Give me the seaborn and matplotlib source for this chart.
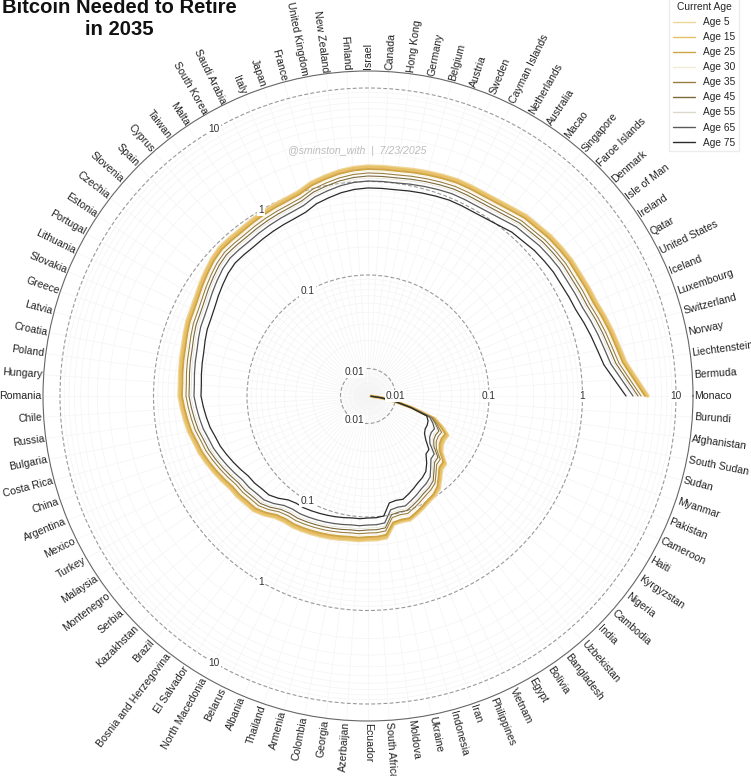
import numpy as np
import pandas as pd
import seaborn as sns
import matplotlib.pyplot as plt

# Data (BTC needed, log radius), going clockwise
countries = ["Burundi", "Afghanistan", "South Sudan", "Sudan", "Myanmar", "Pakistan", "Cameroon", "Haiti",
             "Kyrgyzstan", "Nigeria", "Cambodia", "India", "Uzbekistan", "Bangladesh", "Bolivia", "Egypt",
             "Vietnam", "Philippines", "Iran", "Indonesia", "Ukraine", "Moldova", "South Africa", "Ecuador",
             "Azerbaijan", "Georgia", "Colombia", "Armenia", "Thailand", "Albania", "Belarus", "North Macedonia",
             "El Salvador", "Bosnia and Herzegovina", "Brazil", "Kazakhstan", "Serbia", "Montenegro", "Malaysia",
             "Turkey", "Mexico", "Argentina", "China", "Costa Rica", "Bulgaria", "Russia", "Chile", "Romania",
             "Hungary", "Poland", "Croatia", "Latvia", "Greece", "Slovakia", "Lithuania", "Portugal", "Estonia",
             "Czechia", "Slovenia", "Spain", "Cyprus", "Taiwan", "Malta", "South Korea", "Saudi Arabia", "Italy",
             "Japan", "France", "United Kingdom", "New Zealand", "Finland", "Israel", "Canada", "Hong Kong",
             "Germany", "Belgium", "Austria", "Sweden", "Cayman Islands", "Netherlands", "Australia", "Macao",
             "Singapore", "Faroe Islands", "Denmark", "Isle of Man", "Ireland", "Qatar", "United States", "Iceland",
             "Luxembourg", "Switzerland", "Norway", "Liechtenstein", "Bermuda", "Monaco"]

age_5 = [.00547, .0070, .0099, .0158, .0285, .0365, .0455, .0444, .0455, .0502, .0643, .0659, .0764, .0908, .0977, .1025,
         .1104, .1188, .1279, .1248, .1279, .1719, .1762, .1762, .1806, .1806, .1851, .1897, .1945, .1993, .2043, .2094,
         .2094, .22, .2488, .2746, .2815, .2957, .3031, .3263, .3514, .3783, .4074, .428, .4608, .4841, .5086, .5342,
         .5342, .5476, .5612, .5752, .6043, .6348, .6507, .6835, .736, .7925, .8533, .8964, .8964, .8964, .9188, .9417,
         .9652, .9893, 1.037, 1.174, 1.264, 1.36, 1.429, 1.465, 1.465, 1.465, 1.501, 1.539, 1.577, 1.617, 1.617, 1.617,
         1.657, 1.741, 1.874, 1.921, 2.018, 2.068, 2.12, 2.12, 2.173, 2.227, 2.398, 2.582, 2.78, 3.068, 3.83, 5.023]
age_15 = [.00547, .0070, .0099, .0158, .0285, .0356, .0444, .0433, .0444, .0490, .0627, .0643, .0745, .0885, .0953, .100,
          .1077, .1159, .1248, .1218, .1248, .1677, .1719, .1719, .1762, .1762, .1806, .1851, .1897, .1945, .1993, .2043,
          .2043, .2146, .2428, .2679, .2746, .2885, .2957, .3184, .3428, .3691, .3975, .4175, .4496, .4723, .4962, .5212,
          .5212, .5342, .5476, .5612, .5896, .6194, .6348, .6669, .7181, .7732, .8325, .8746, .8746, .8746, .8964, .9188,
          .9417, .9652, 1.012, 1.145, 1.233, 1.327, 1.394, 1.429, 1.429, 1.429, 1.465, 1.501, 1.539, 1.577, 1.577, 1.577,
          1.617, 1.698, 1.829, 1.874, 1.969, 2.018, 2.068, 2.068, 2.12, 2.173, 2.34, 2.519, 2.712, 2.994, 3.737, 4.901]
age_25 = [.00547, .0070, .0099, .0154, .0278, .0347, .0423, .0412, .0423, .0467, .0597, .0612, .0709, .0843, .0930, .0977,
          .105, .1131, .1218, .1188, .1218, .1597, .1637, .1637, .1677, .1677, .1719, .1762, .1806, .1851, .1897, .1945,
          .1945, .2043, .2311, .255, .2614, .2746, .2815, .3031, .3263, .3514, .3783, .3975, .428, .4496, .4723, .4962,
          .4962, .5086, .5212, .5342, .5612, .5896, .6043, .6348, .6835, .736, .7925, .8325, .8325, .8325, .8533, .8746,
          .8964, .9188, .9652, 1.09, 1.174, 1.264, 1.327, 1.36, 1.36, 1.36, 1.394, 1.429, 1.465, 1.501, 1.501, 1.501,
          1.539, 1.617, 1.741, 1.784, 1.874, 1.921, 1.969, 1.969, 2.018, 2.068, 2.227, 2.398, 2.582, 2.85, 3.557, 4.665]
age_30 = [.00547, .0070, .0099, .0154, .0271, .0330, .0402, .0393, .0402, .0444, .0568, .0582, .0675, .0802, .0864, .0908,
          .0977, .105, .1131, .1104, .1131, .152, .1558, .1558, .1597, .1597, .1637, .1677, .1719, .1762, .1806, .1851,
          .1851, .1945, .22, .2428, .2488, .2614, .2679, .2885, .3106, .3345, .3601, .3783, .4074, .428, .4496, .4723,
          .4723, .4841, .4962, .5086, .5342, .5612, .5752, .6043, .6507, .7006, .7543, .7925, .7925, .7925, .8122, .8325,
          .8533, .8746, .9188, 1.037, 1.117, 1.203, 1.264, 1.295, 1.295, 1.295, 1.327, 1.36, 1.394, 1.429, 1.429, 1.429,
          1.465, 1.539, 1.657, 1.698, 1.784, 1.829, 1.874, 1.874, 1.921, 1.969, 2.12, 2.283, 2.458, 2.712, 3.387, 4.441]
age_35 = [.00547, .0070, .0099, .0154, .0271, .0322, .0383, .0374, .0383, .0423, .0541, .0554, .0643, .0764, .0822, .0864,
          .0930, .100, .1077, .105, .1077, .1447, .1483, .1483, .152, .152, .1558, .1597, .1637, .1677, .1719, .1762,
          .1762, .1851, .2094, .2311, .2369, .2488, .255, .2746, .2957, .3184, .3428, .3601, .3878, .4074, .428, .4496,
          .4496, .4608, .4723, .4841, .5086, .5342, .5476, .5752, .6194, .6669, .7181, .7543, .7543, .7543, .7732, .7925,
          .8122, .8325, .8746, .9893, 1.063, 1.145, 1.203, 1.233, 1.233, 1.233, 1.264, 1.295, 1.327, 1.36, 1.36, 1.36,
          1.394, 1.465, 1.577, 1.617, 1.698, 1.741, 1.784, 1.784, 1.829, 1.874, 2.018, 2.173, 2.34, 2.582, 3.224, 4.227]
age_45 = [.00547, .0070, .0099, .0154, .0265, .0307, .0356, .0347, .0356, .0393, .0502, .0515, .0597, .0709, .0764, .0802,
          .0864, .0930, .100, .0977, .100, .1344, .1377, .1377, .1412, .1412, .1447, .1483, .152, .1558, .1597, .1637,
          .1637, .1719, .1945, .2146, .22, .2311, .2369, .255, .2746, .2957, .3184, .3345, .3601, .3783, .3975, .4175,
          .4175, .428, .4386, .4496, .4723, .4962, .5086, .5342, .5752, .6194, .6669, .7006, .7006, .7006, .7181, .736,
          .7543, .7732, .8122, .9188, .9893, 1.063, 1.117, 1.145, 1.145, 1.145, 1.174, 1.203, 1.233, 1.264, 1.264, 1.264,
          1.295, 1.36, 1.465, 1.501, 1.577, 1.617, 1.657, 1.657, 1.698, 1.741, 1.874, 2.018, 2.173, 2.398, 2.994, 3.926]
age_55 = [.00547, .0070, .0099, .0150, .0258, .0299, .0339, .0330, .0339, .0374, .0478, .0490, .0568, .0675, .0727, .0764,
          .0822, .0885, .0953, .0930, .0953, .1279, .1311, .1311, .1344, .1344, .1377, .1412, .1447, .1483, .152, .1558,
          .1558, .1637, .1851, .2043, .2094, .22, .2255, .2428, .2614, .2815, .3031, .3184, .3428, .3601, .3783, .3975,
          .3975, .4074, .4175, .428, .4496, .4723, .4841, .5086, .5476, .5896, .6348, .6669, .6669, .6669, .6835, .7006,
          .7181, .736, .7732, .8746, .9417, 1.012, 1.063, 1.09, 1.09, 1.09, 1.117, 1.145, 1.174, 1.203, 1.203, 1.203,
          1.233, 1.295, 1.394, 1.429, 1.501, 1.539, 1.577, 1.577, 1.617, 1.657, 1.784, 1.921, 2.068, 2.283, 2.85, 3.737]
age_65 = [.00547, .0070, .0099, .0150, .0252, .0285, .0315, .0307, .0315, .0347, .0444, .0455, .0528, .0627, .0675, .0709,
          .0764, .0822, .0885, .0864, .0885, .1188, .1218, .1218, .1248, .1248, .1279, .1311, .1344, .1377, .1412, .1447,
          .1447, .152, .1719, .1897, .1945, .2043, .2094, .2255, .2428, .2614, .2815, .2957, .3184, .3345, .3514, .3691,
          .3691, .3783, .3878, .3975, .4175, .4386, .4496, .4723, .5086, .5476, .5896, .6194, .6194, .6194, .6348, .6507,
          .6669, .6835, .7181, .8122, .8746, .9417, .9893, 1.012, 1.012, 1.012, 1.037, 1.063, 1.09, 1.117, 1.117, 1.117,
          1.145, 1.203, 1.295, 1.327, 1.394, 1.429, 1.465, 1.465, 1.501, 1.539, 1.657, 1.784, 1.921, 2.12, 2.646, 3.471]
age_75 = [.00547, .0070, .0099, .0150, .0234, .0252, .0258, .0258, .0271, .0307, .0374, .0383, .0455, .0528, .0568, .0597,
          .0643, .0692, .0745, .0727, .0745, .100, .1025, .1025, .105, .105, .1077, .1104, .1131, .1159, .1188, .1218,
          .1218, .1279, .1447, .1597, .1637, .1719, .1762, .1897, .2043, .22, .2369, .2488, .2679, .2815, .2957, .3106,
          .3106, .3184, .3263, .3345, .3514, .3691, .3783, .3975, .428, .4608, .4962, .5212, .5212, .5212, .5342, .5476,
          .5612, .5752, .6043, .6835, .736, .7925, .8325, .8533, .8533, .8533, .8746, .8964, .9188, .9417, .9417, .9417,
          .9652, 1.012, 1.09, 1.117, 1.174, 1.203, 1.233, 1.233, 1.264, 1.295, 1.394, 1.501, 1.617, 1.784, 2.227, 2.921]

ages = ["Age 5", "Age 15", "Age 25", "Age 30", "Age 35", "Age 45", "Age 55", "Age 65", "Age 75"]
series = [age_5, age_15, age_25, age_30, age_35, age_45, age_55, age_65, age_75]
radial_ticks = [0.01, 0.1, 1, 10]

palette = dict(zip(ages, ["#efd596", "#e8c068", "#cfa444", "#f3ecd4", "#9a7f3e", "#7d6a3a", "#dcd9cc", "#5a5a5a", "#2a2a2a"]))
widths = dict(zip(ages, [2.4, 2.0, 1.4, 0.4, 0.8, 0.8, 0.4, 0.9, 0.9]))

# Tabla larga para seaborn
n = len(countries)
theta = np.arange(1, n + 1) * 2 * np.pi / n
df = pd.concat([pd.DataFrame({"theta": theta, "btc": vals, "age": age}) for age, vals in zip(ages, series)])

sns.set_theme(style="white")
plt.rcParams["font.family"] = ["Liberation Sans", "DejaVu Sans"]

fig = plt.figure(figsize=(7.51, 7.76), dpi=100)
ax = fig.add_axes([43 / 751, 55 / 776, 650 / 751, 650 / 776], projection="polar")
ax.set_theta_zero_location("E")
ax.set_theta_direction(-1)
ax.set_rscale("log")

sns.lineplot(data=df, x="theta", y="btc", hue="age", size="age", hue_order=ages, size_order=ages,
             palette=palette, sizes=widths, estimator=None, sort=False, ax=ax)

rmax = 15.2
ax.set_rlim(0.00508, rmax)
ax.set_xlabel("")
ax.set_ylabel("")

# Rejilla
ax.set_xticks(theta)
ax.set_xticklabels([])
ax.set_yticks(radial_ticks)
ax.set_yticks([m * 10.0 ** e for e in (-3, -2, -1, 0, 1) for m in range(2, 10) if 0.00508 < m * 10.0 ** e < rmax], minor=True)
ax.set_yticklabels([])
ax.set_yticklabels([], minor=True)
ax.tick_params(axis="both", which="both", length=0)
ax.xaxis.grid(True, color="#f4f4f4", lw=0.5)
ax.yaxis.grid(True, which="major", color="#999999", lw=0.8, ls=(0, (3.5, 2)))
ax.yaxis.grid(True, which="minor", color="#f4f4f4", lw=0.5)
ax.spines["polar"].set_color("#666666")
ax.spines["polar"].set_linewidth(0.8)

# Country labels
for th, name in zip(theta, countries):
    deg = np.degrees(th) % 360
    if deg <= 90 or deg >= 270:
        rot, ha = -deg, "left"
    else:
        rot, ha = 180 - deg, "right"
    ax.text(th, 15.8, name, rotation=rot, rotation_mode="anchor", ha=ha, va="center",
            fontsize=7.6, color="#222222", clip_on=False)

# Radial labels on three spokes
for a in (0, 120, 240):
    for t in radial_ticks:
        ax.text(np.radians(a), t, f"{t:g}", ha="center", va="center", fontsize=7.3, color="#333333",
                bbox=dict(facecolor="white", edgecolor="none", pad=0.8), zorder=5)

sns.move_legend(ax, "upper left", bbox_to_anchor=(669 / 751, 1.002), bbox_transform=fig.transFigure,
                title="Current Age", fontsize=7.3, title_fontsize=7.4, frameon=True, fancybox=False,
                edgecolor="#e8e8e8", labelspacing=0.5, handlelength=2.2, handletextpad=0.8, borderpad=0.35,
                borderaxespad=0)
for h in ax.get_legend().legend_handles:
    h.set_linewidth(1.0)

fig.text(119 / 751, 1 - 39 / 776, "Bitcoin Needed to Retire\nin 2035", ha="center", va="bottom",
         fontsize=14.6, fontweight="bold", color="#111111", linespacing=1.17)
fig.text(357 / 751, 1 - 151 / 776, "@sminston_with  |  7/23/2025", ha="center", va="center",
         fontsize=7.6, style="italic", color="#bcbcbc")

fig.savefig("out.png", dpi=100)
plt.close(fig)
